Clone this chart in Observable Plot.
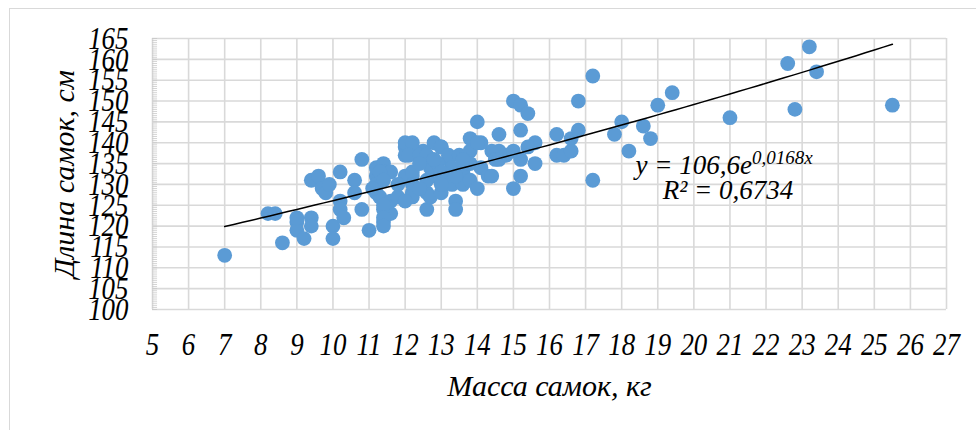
<!DOCTYPE html>
<html><head><meta charset="utf-8">
<script src="https://cdn.jsdelivr.net/npm/d3@7"></script>
<script src="https://cdn.jsdelivr.net/npm/@observablehq/plot@0.6"></script>
<style>
body{margin:0;background:#fff;}
#frame{position:absolute;left:9px;top:8px;width:1000px;height:500px;border:1.5px solid #d9d9d9;box-sizing:border-box}
#chart{position:absolute;left:0;top:0}
#chart svg, #chart svg text, #chart svg tspan{font-family:"Liberation Serif","Times New Roman",serif !important;font-style:italic !important;fill:#000}
</style></head><body>
<div id="frame"></div><div id="chart"></div>
<script>
const mass = [7.0,8.2,8.4,8.6,9.0,9.0,9.0,9.2,9.4,9.4,9.4,9.6,9.7,9.8,9.9,10.2,10.0,10.0,10.2,10.2,10.3,10.6,10.6,10.8,11.0,10.8,11.2,11.2,11.2,11.2,11.3,11.4,11.4,11.4,11.4,11.6,11.6,11.6,11.3,11.4,11.1,11.4,11.4,11.4,
12.0,12.0,12.2,12.5,13.0,12.2,12.6,12.6,12.8,13.2,13.4,12.2,12.0,13.2,13.8,12.0,12.2,12.8,13.0,12.1,12.4,12.6,13.2,13.5,13.8,13.3,13.6,13.8,14.1,12.2,12.2,12.2,12.7,13.0,13.4,13.3,13.6,13.8,14.0,14.3,12.7,12.9,14.0,
12.4,12.6,13.0,13.0,12.8,13.4,12.4,11.8,11.8,12.0,13.6,14.8,
15.0,15.2,15.4,16.8,14.6,15.2,16.2,16.6,16.8,15.6,15.4,15.0,14.6,14.4,14.1,15.2,15.6,16.2,16.4,16.6,14.4,15.2,15.0,17.2,14.5,14.6,17.2,14.0,
19.4,19.0,18.0,17.8,18.6,18.8,18.2,21.0,22.6,23.2,23.4,22.8,25.5];
const length = [113,123,123,116,121,119,122,117,122,120,131,132,129,128,130,133,120,117,126,124,122,131,128,124,119,136,132,128,134,130,127,135,133,124,121,133,126,123,133,131,129,125,122,120,
139,137,138,138,139,128,128,124,132,131,126,132,132,136,141,140,140,140,139,137,137,137,137,137,138,134,133,135,134,133,130,127,127,128,124,130,130,131,129,132,134,135,145,
135,131,133,130,136,132,129,130,127,126,136,137,
150,149,147,150,142,143,142,141,143,140,139,138,138,138,140,136,135,137,137,138,132,132,129,131,136,136,156,140,
152,149,145,142,144,141,138,146,159,163,157,148,149];
const xTicks = d3.range(5, 28, 1);
const yTicks = d3.range(100, 166, 5);
const minorY = d3.range(100, 165.01, 0.5);
const trendA = 106.6, trendB = 0.0168, trendFrom = 7, trendTo = 25.5;
const eqLine1 = "y = 106,6e", eqExp = "0,0168x", eqLine2 = "R² = 0,6734";

const points = mass.map((m, i) => ({m, l: length[i]}));
const trend = d3.range(trendFrom, trendTo + 0.001, 0.25).map(x => ({x, y: trendA * Math.exp(trendB * x)}));

const plot = Plot.plot({
  width: 976, height: 430,
  marginLeft: 152, marginRight: 30, marginTop: 38, marginBottom: 121,
  x: {domain: [5, 27]},
  y: {domain: [100, 165]},
  style: {background: "transparent", overflow: "visible", fontFamily: "'Liberation Serif', 'Times New Roman', serif"},
  marks: [
    Plot.gridX(xTicks, {stroke: "#d9d9d9", strokeWidth: 1.6, strokeOpacity: 1}),
    Plot.gridY(yTicks, {stroke: "#d9d9d9", strokeWidth: 1.6, strokeOpacity: 1}),
    Plot.ruleY(minorY, {x1: 5, x2: 5.14, stroke: "#c8c8c8", strokeWidth: 0.8}),
    Plot.axisX(xTicks, {tickSize: 0, tickPadding: 23, fontSize: 32, label: null}),
    Plot.axisY(yTicks, {tickSize: 0, tickPadding: 24, fontSize: 32, label: null}),
    Plot.axisX({label: "Масса самок, кг", labelAnchor: "center", labelOffset: 86, labelArrow: "none", ticks: [], fontSize: 30, tickSize: 0}),
    Plot.axisY({label: "Длина самок, см", labelAnchor: "center", labelOffset: 100, labelArrow: "none", ticks: [], fontSize: 30, tickSize: 0}),
    Plot.dot(points, {x: "m", y: "l", r: 7.4, fill: "#5b9bd5", stroke: "none"}),
    Plot.line(trend, {x: "x", y: "y", stroke: "#000", strokeWidth: 1.5})
  ]
});
document.getElementById("chart").appendChild(plot);

// condense the tick digits like the reference's narrow serif
d3.select(plot).selectAll('g[aria-label="x-axis tick label"] text, g[aria-label="y-axis tick label"] text')
  .each(function(){ const t = this.getAttribute("transform") || ""; this.setAttribute("transform", t + " scale(0.84,1)"); });

// equation annotation, positioned with the chart's scales
const sx = plot.scale("x"), sy = plot.scale("y");
const svg = d3.select(plot);
const t1 = svg.append("text").attr("text-anchor", "start").attr("x", sx.apply(18.4)).attr("y", sy.apply(132.5)).style("font-size", "27px");
t1.append("tspan").text(eqLine1);
t1.append("tspan").attr("dy", -10).style("font-size", "19px").text(eqExp);
svg.append("text").attr("text-anchor", "start").attr("x", sx.apply(19.15)).attr("y", sy.apply(126.3)).style("font-size", "27px").text(eqLine2);
</script>
</body></html>
